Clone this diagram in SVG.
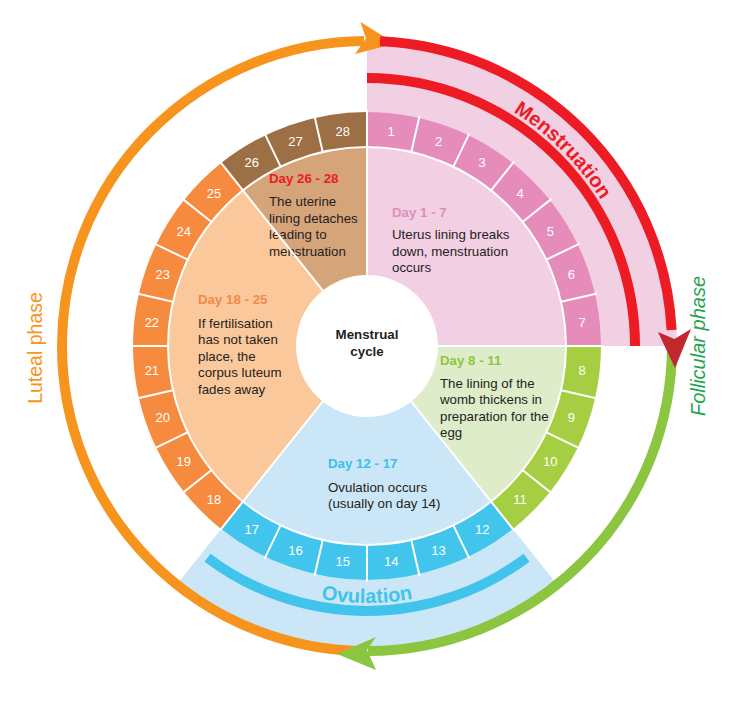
<svg xmlns="http://www.w3.org/2000/svg" width="730" height="702" viewBox="0 0 730 702">
<style>
text { font-family: "Liberation Sans", Arial, sans-serif; }
.day { font-size: 13px; fill: #ffffff; text-anchor: middle; }
.hd { font-size: 13.3px; font-weight: bold; }
.bd { font-size: 13.3px; fill: #231f20; }
.sep { stroke: #ffffff; stroke-width: 2; fill: none; }
.arc { fill: none; stroke-width: 10; }
.big { font-size: 20px; font-weight: bold; }
</style>
<rect width="730" height="702" fill="#ffffff"/>

<!-- background bands -->
<g id="band-menstruation">
<path d="M 367 112 L 367 36 A 310 310 0 0 1 677 346 L 601 346 A 234 234 0 0 0 367 112 Z" fill="#f2d0e3"/>
<path d="M 367 78 A 268 268 0 0 1 635 346" class="arc" stroke="#ed1c24" stroke-width="9"/>
<path id="mpath" d="M 367 70 A 276 276 0 0 1 643 346" fill="none"/>
<text class="big" fill="#ed1c24"><textPath href="#mpath" startOffset="50%" text-anchor="middle">Menstruation</textPath></text>
</g>
<g id="band-ovulation">
<path d="M 512.90 528.95 L 555.92 582.90 A 303 303 0 0 1 178.08 582.90 L 221.10 528.95 A 234 234 0 0 0 512.90 528.95 Z" fill="#cbe6f7"/>
<path d="M 207.52 557.64 A 265 265 0 0 0 526.48 557.64" class="arc" stroke="#40c4ec" stroke-width="8"/>
<path id="opath" d="M 170.13 511.20 A 257 257 0 0 0 563.87 511.20" fill="none"/>
<text class="big" fill="#40c4ec"><textPath href="#opath" startOffset="50%" text-anchor="middle">Ovulation</textPath></text>
</g>

<!-- connectors: phase arcs -->
<g id="connectors">
<path d="M 367 651 A 305 305 0 0 1 62 346 A 305 305 0 0 1 364 41" class="arc" stroke="#f7941e"/>
<polygon points="360.5,22 395,43.5 355,54 366,38.5" fill="#f7941e"/>
<path d="M 380 41.3 A 305 305 0 0 1 671.6 330" class="arc" stroke="#ed1c24"/>
<path d="M 672 346 A 305 305 0 0 1 368 651" class="arc" stroke="#8cc540"/>
<polygon points="658,332 674.5,339 691,329 675,368" fill="#c1272d"/>
<polygon points="376,637 367,650 376,670 337,654" fill="#8cc540"/>
</g>

<!-- phase nodes -->
<g id="phase-1-7">
<path d="M 367 346 L 367 112 A 234 234 0 0 1 601 346 Z" fill="#e68cba"/>
<path d="M 367 346 L 367 147 A 199 199 0 0 1 566 346 Z" fill="#f2cfe3"/>
<text class="hd" x="392" y="216.5" fill="#dc8fbd">Day 1 - 7</text>
<text class="bd" x="392" y="239">Uterus lining breaks</text>
<text class="bd" x="392" y="255.5">down, menstruation</text>
<text class="bd" x="392" y="272">occurs</text>
</g>
<g id="phase-8-11">
<path d="M 367 346 L 601 346 A 234 234 0 0 1 512.90 528.95 Z" fill="#a6ce42"/>
<path d="M 367 346 L 566 346 A 199 199 0 0 1 491.07 501.58 Z" fill="#dfecc9"/>
<text class="hd" x="440" y="365" fill="#8dc63f">Day 8 - 11</text>
<text class="bd" x="440" y="387.5">The lining of the</text>
<text class="bd" x="440" y="404">womb thickens in</text>
<text class="bd" x="440" y="420.5">preparation for the</text>
<text class="bd" x="440" y="437">egg</text>
</g>
<g id="phase-12-17">
<path d="M 367 346 L 512.90 528.95 A 234 234 0 0 1 221.10 528.95 Z" fill="#42c5ec"/>
<path d="M 367 346 L 491.07 501.58 A 199 199 0 0 1 242.93 501.58 Z" fill="#cbe6f7"/>
<text class="hd" x="328" y="468" fill="#3fbfe8">Day 12 - 17</text>
<text class="bd" x="328" y="491.5">Ovulation occurs</text>
<text class="bd" x="328" y="508">(usually on day 14)</text>
</g>
<g id="phase-18-25">
<path d="M 367 346 L 221.10 528.95 A 234 234 0 0 1 221.10 163.05 Z" fill="#f68b3f"/>
<path d="M 367 346 L 242.93 501.58 A 199 199 0 0 1 242.93 190.42 Z" fill="#fbc89b"/>
<text class="hd" x="198" y="304" fill="#f08b4c">Day 18 - 25</text>
<text class="bd" x="198" y="327.5">If fertilisation</text>
<text class="bd" x="198" y="344">has not taken</text>
<text class="bd" x="198" y="360.5">place, the</text>
<text class="bd" x="198" y="377">corpus luteum</text>
<text class="bd" x="198" y="393.5">fades away</text>
</g>
<g id="phase-26-28">
<path d="M 367 346 L 221.10 163.05 A 234 234 0 0 1 367 112 Z" fill="#9c6f44"/>
<path d="M 367 346 L 242.93 190.42 A 199 199 0 0 1 367 147 Z" fill="#d6a479"/>
<text class="hd" x="269" y="183" fill="#ed1c24">Day 26 - 28</text>
<text class="bd" x="269" y="206">The uterine</text>
<text class="bd" x="269" y="222.5">lining detaches</text>
<text class="bd" x="269" y="239">leading to</text>
<text class="bd" x="269" y="255.5">menstruation</text>
</g>

<!-- separators -->
<g id="separators" class="sep">
<circle cx="367" cy="346" r="199"/>
<path d="M 367 346 L 367 147 M 367 346 L 566 346 M 367 346 L 491.07 501.58 M 367 346 L 242.93 501.58 M 367 346 L 242.93 190.42"/>
<path d="M 367 148 L 367 110 M 411.06 152.96 L 419.51 115.92 M 452.91 167.61 L 469.40 133.37 M 490.45 191.20 L 514.14 161.49 M 521.80 222.55 L 551.51 198.86 M 545.39 260.09 L 579.63 243.60 M 560.04 301.94 L 597.08 293.49 M 565 346 L 603 346 M 560.04 390.06 L 597.08 398.51 M 545.39 431.91 L 579.63 448.40 M 521.80 469.45 L 551.51 493.14 M 490.45 500.80 L 514.14 530.51 M 452.91 524.39 L 469.40 558.63 M 411.06 539.04 L 419.51 576.08 M 367 544 L 367 582 M 322.94 539.04 L 314.49 576.08 M 281.09 524.39 L 264.60 558.63 M 243.55 500.80 L 219.86 530.51 M 212.20 469.45 L 182.49 493.14 M 188.61 431.91 L 154.37 448.40 M 173.96 390.06 L 136.92 398.51 M 169 346 L 131 346 M 173.96 301.94 L 136.92 293.49 M 188.61 260.09 L 154.37 243.60 M 212.20 222.55 L 182.49 198.86 M 243.55 191.20 L 219.86 161.49 M 281.09 167.61 L 264.60 133.37 M 322.94 152.96 L 314.49 115.92"/>
</g>

<!-- day numbers -->
<g id="days">
<text class="day" x="391.24" y="135.6">1</text>
<text class="day" x="438.51" y="146.4">2</text>
<text class="day" x="482.18" y="167.4">3</text>
<text class="day" x="520.09" y="197.6">4</text>
<text class="day" x="550.31" y="235.5">5</text>
<text class="day" x="571.35" y="279.2">6</text>
<text class="day" x="582.14" y="326.5">7</text>
<text class="day" x="582.14" y="374.9">8</text>
<text class="day" x="571.35" y="422.2">9</text>
<text class="day" x="550.31" y="465.9">10</text>
<text class="day" x="520.09" y="503.8">11</text>
<text class="day" x="482.18" y="534.0">12</text>
<text class="day" x="438.51" y="555.1">13</text>
<text class="day" x="391.24" y="565.8">14</text>
<text class="day" x="342.76" y="565.8">15</text>
<text class="day" x="295.49" y="555.1">16</text>
<text class="day" x="251.82" y="534.0">17</text>
<text class="day" x="213.91" y="503.8">18</text>
<text class="day" x="183.69" y="465.9">19</text>
<text class="day" x="162.65" y="422.2">20</text>
<text class="day" x="151.86" y="374.9">21</text>
<text class="day" x="151.86" y="326.5">22</text>
<text class="day" x="162.65" y="279.2">23</text>
<text class="day" x="183.69" y="235.5">24</text>
<text class="day" x="213.91" y="197.6">25</text>
<text class="day" x="251.82" y="167.4">26</text>
<text class="day" x="295.49" y="146.4">27</text>
<text class="day" x="342.76" y="135.6">28</text>
</g>

<!-- centre -->
<g id="centre">
<circle cx="367" cy="346" r="71" fill="#ffffff"/>
<text class="hd" x="367" y="339" text-anchor="middle" fill="#231f20">Menstrual</text>
<text class="hd" x="367" y="355.5" text-anchor="middle" fill="#231f20">cycle</text>
</g>

<!-- phase labels -->
<g id="label-luteal">
<text x="42" y="348" transform="rotate(-90 42 348)" text-anchor="middle" font-size="19.5" fill="#f7941e">Luteal phase</text>
</g>
<g id="label-follicular">
<text x="705" y="346" transform="rotate(-90 705 346)" text-anchor="middle" font-size="20" font-style="italic" fill="#1fa354">Follicular phase</text>
</g>
</svg>
